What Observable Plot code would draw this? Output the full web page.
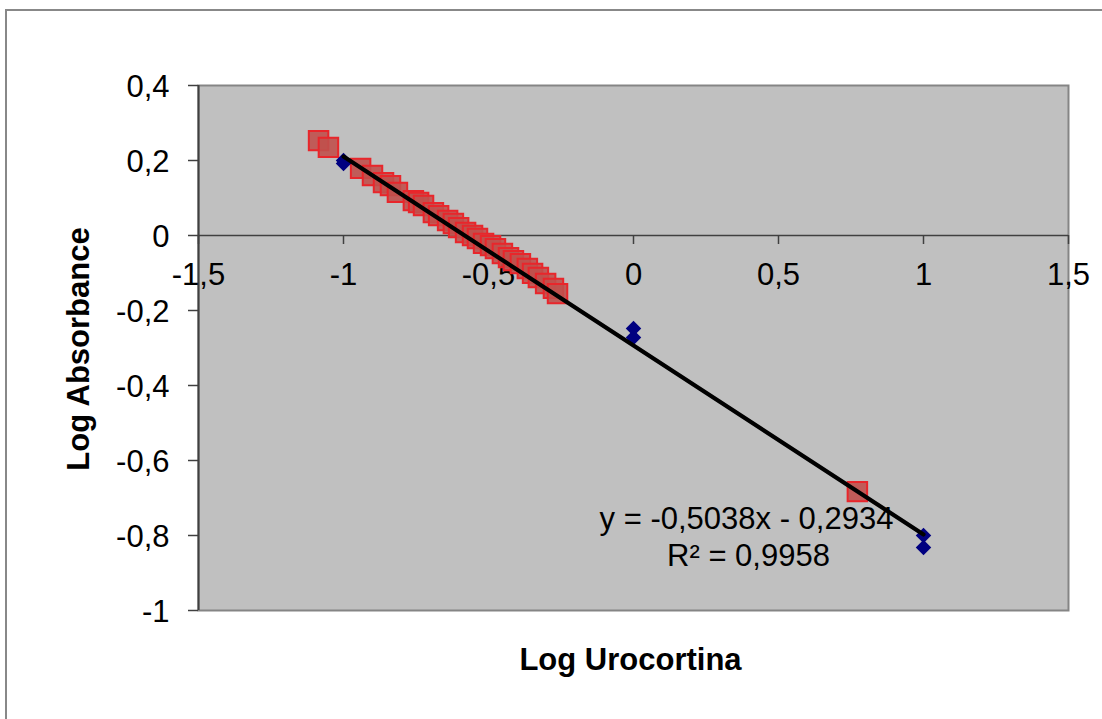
<!DOCTYPE html>
<html><head><meta charset="utf-8">
<script src="https://cdn.jsdelivr.net/npm/d3@7"></script>
<script src="https://cdn.jsdelivr.net/npm/@observablehq/plot@0.6"></script>
<style>
html,body{margin:0;padding:0;background:#fff;overflow:hidden;width:1102px;height:719px;}
#outer{position:absolute;left:5px;top:9px;width:1200px;height:800px;border:2px solid #888;box-sizing:border-box}
#chart{position:absolute;left:0;top:0}
</style></head><body>
<div id="outer"></div>
<div id="chart"></div>
<script>
// Axis ticks
const xTicks = [-1.5, -1, -0.5, 0, 0.5, 1, 1.5];
const yTicks = [-1, -0.8, -0.6, -0.4, -0.2, 0, 0.2, 0.4];

// Standard curve (blue diamonds)
const stdX = [-1, -1, 0, 0, 1, 1];
const stdY = [0.192, 0.2, -0.248, -0.272, -0.800, -0.832];

// Samples (red squares)
const sampleX = [-1.086, -1.052, -0.941, -0.900, -0.862, -0.838, -0.814, -0.759, -0.741, -0.724,
  -0.690, -0.672, -0.641, -0.621, -0.603, -0.579, -0.555, -0.538, -0.517, -0.493,
  -0.476, -0.452, -0.431, -0.414, -0.390, -0.366, -0.348, -0.328, -0.303, -0.276, -0.262, 0.772];
const sampleY = [0.253, 0.235, 0.179, 0.160, 0.141, 0.133, 0.115, 0.093, 0.088, 0.080,
  0.061, 0.053, 0.040, 0.032, 0.021, 0.008, 0.000, -0.008, -0.021, -0.027,
  -0.035, -0.048, -0.059, -0.067, -0.075, -0.088, -0.101, -0.112, -0.128, -0.141, -0.155, -0.683];

// Trendline (from the chart's equation)
const slope = -0.5038;
const intercept = -0.2934;
const trendX = [-1, 1];
const equationText = "y = -0,5038x - 0,2934";
const r2Text = "R² = 0,9958";
const xTitle = "Log Urocortina";
const yTitle = "Log Absorbance";

const fmt = d => String(d).replace(".", ",");
const FS = 31;

const chart = Plot.plot({
  width: 1102, height: 719,
  marginLeft: 198, marginRight: 34, marginTop: 85, marginBottom: 109,
  x: {domain: [-1.5, 1.5], axis: null},
  y: {domain: [-1, 0.4], axis: null},
  style: {fontFamily: "'Liberation Sans', Arial, sans-serif", fontSize: FS + "px", background: "transparent", color: "black"},
  marks: [
    Plot.frame({fill: "#c0c0c0"}),
    Plot.frame({stroke: "#858585", strokeWidth: 2}),
    Plot.ruleX([xTicks[0]], {stroke: "#404040", strokeWidth: 2}),
    Plot.ruleY([0], {stroke: "#404040", strokeWidth: 1.5}),
    Plot.ruleX(xTicks, {x: d => d, y1: 0, y2: 0, insetBottom: -9, stroke: "#404040", strokeWidth: 1.5}),
    Plot.ruleY(yTicks, {y: d => d, x1: xTicks[0], x2: xTicks[0], insetLeft: -10, stroke: "#404040", strokeWidth: 1.5}),
    Plot.text(yTicks, {y: d => d, frameAnchor: "left", text: fmt, textAnchor: "end", lineAnchor: "bottom", dx: -29, dy: 11.5, fontSize: FS, fill: "black"}),
    Plot.text(xTicks, {x: d => d, y: 0, text: fmt, textAnchor: "middle", lineAnchor: "bottom", dy: 49, fontSize: FS, fill: "black"}),
    Plot.dot(sampleX, {x: sampleX, y: sampleY, symbol: "square", r: 11, fill: "#c0504d", fillOpacity: 0.9, stroke: "#e8262b", strokeWidth: 2}),
    Plot.dot(stdX, {x: stdX, y: stdY, symbol: "diamond2", r: 7, fill: "#000080", stroke: "none"}),
    Plot.line(trendX, {x: d => d, y: d => slope * d + intercept, stroke: "black", strokeWidth: 4.2}),
    Plot.text([equationText], {frameAnchor: "bottom-right", textAnchor: "middle", lineAnchor: "bottom", dx: -322, dy: -82, fontSize: FS, fill: "black"}),
    Plot.text([r2Text], {frameAnchor: "bottom-right", textAnchor: "middle", lineAnchor: "bottom", dx: -320, dy: -45, fontSize: FS, fill: "black"}),
    Plot.text([xTitle], {frameAnchor: "bottom", textAnchor: "middle", lineAnchor: "bottom", dx: -3, dy: 59, fontSize: FS, fontWeight: "bold", fill: "black"}),
    Plot.text([yTitle], {frameAnchor: "left", textAnchor: "middle", lineAnchor: "bottom", rotate: -90, dx: -110, dy: 1, fontSize: FS, fontWeight: "bold", fill: "black"})
  ]
});
document.getElementById("chart").append(chart);
</script>
</body></html>
